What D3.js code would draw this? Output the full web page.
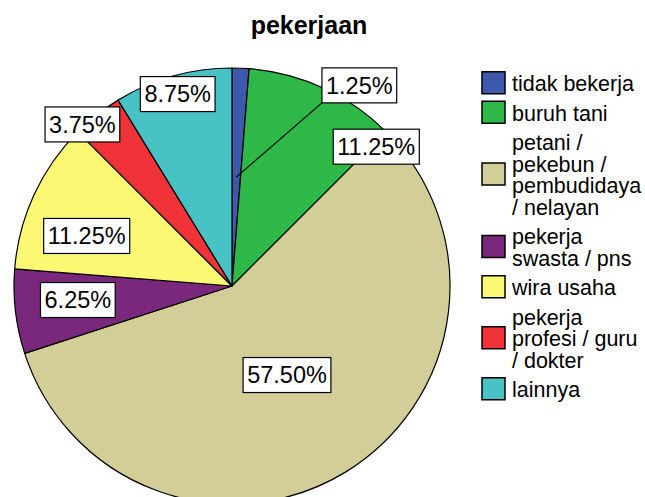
<!DOCTYPE html>
<html>
<head>
<meta charset="utf-8">
<script src="https://cdn.jsdelivr.net/npm/d3@7"></script>
<style>
  html, body { margin: 0; padding: 0; background: #fff; }
  svg { display: block; font-family: "Liberation Sans", Arial, sans-serif; }
</style>
</head>
<body>
<svg id="chart" width="645" height="497"></svg>
<script>
const categories = ['tidak bekerja', 'buruh tani', 'petani / pekebun / pembudidaya / nelayan',
  'pekerja swasta / pns', 'wira usaha', 'pekerja profesi / guru / dokter', 'lainnya'];
const percents = [1.25, 11.25, 57.50, 6.25, 11.25, 3.75, 8.75];
const legendLines = [
  ['tidak bekerja'],
  ['buruh tani'],
  ['petani /', 'pekebun /', 'pembudidaya', '/ nelayan'],
  ['pekerja', 'swasta / pns'],
  ['wira usaha'],
  ['pekerja', 'profesi / guru', '/ dokter'],
  ['lainnya']
];
const colors = ['#3E58AC', '#2EB848', '#D3CE97', '#7A287C', '#FBF873', '#EF3338', '#48C2C5'];

// where SPSS pushed each label (angle in degrees from 12 o'clock, distance as fraction of radius)
const labelAngle = [32.4, 46, 148.3, 264.8, 289, 317.2, 344.2];
const labelDist = [1.09, 0.92, 0.48, 0.71, 0.705, 1.01, 0.915];

const svg = d3.select('#chart');
const cx = 232, cy = 286, radius = 218;

svg.append('text')
  .attr('x', 309).attr('y', 34)
  .attr('text-anchor', 'middle')
  .attr('font-size', 25).attr('font-weight', 'bold')
  .text('pekerjaan');

const pie = d3.pie().sort(null).value(d => d);
const arcs = pie(percents);
const arc = d3.arc().innerRadius(0).outerRadius(radius);

const g = svg.append('g').attr('transform', `translate(${cx},${cy})`);

g.selectAll('path.slice')
  .data(arcs)
  .join('path')
  .attr('class', 'slice')
  .attr('d', arc)
  .attr('fill', (d, i) => colors[i])
  .attr('stroke', '#000')
  .attr('stroke-width', 1.2)
  .attr('stroke-linejoin', 'round');

const fmt = v => v.toFixed(2) + '%';

arcs.forEach((a, i) => {
  const ang = labelAngle[i] * Math.PI / 180;
  const r = labelDist[i] * radius;
  const lx = r * Math.sin(ang);
  const ly = -r * Math.cos(ang);

  const lg = g.append('g').attr('transform', `translate(${lx},${ly})`);
  const t = lg.append('text')
    .attr('text-anchor', 'middle')
    .attr('dy', '0.35em')
    .attr('font-size', 23.5)
    .text(fmt(percents[i]));
  const bb = t.node().getBBox();
  const w = bb.width + 8, h = 35;

  // leader line for labels pushed outside their slice
  if (labelDist[i] > 1.05) {
    const inner = arc.centroid(a);
    g.insert('line', 'g')
      .attr('x1', lx - w / 2).attr('y1', ly + h / 2)
      .attr('x2', inner[0]).attr('y2', inner[1])
      .attr('stroke', '#000').attr('stroke-width', 1.2);
  }

  lg.insert('rect', 'text')
    .attr('x', -w / 2).attr('y', -h / 2)
    .attr('width', w).attr('height', h)
    .attr('fill', '#fff')
    .attr('stroke', '#000').attr('stroke-width', 1.2);
});

// legend
const lineH = 21.5, gap = 8;
const legend = svg.append('g').attr('transform', 'translate(482,73)');
let y = 0;
legendLines.forEach((lines, i) => {
  const blockH = lines.length * lineH;
  const item = legend.append('g').attr('transform', `translate(0,${y})`);
  item.append('rect')
    .attr('x', 0).attr('y', blockH / 2 - 11 - 1)
    .attr('width', 23).attr('height', 22)
    .attr('fill', colors[i])
    .attr('stroke', '#000').attr('stroke-width', 1.5);
  const t = item.append('text').attr('font-size', 21.5);
  lines.forEach((ln, j) => {
    t.append('tspan')
      .attr('x', 30)
      .attr('y', j * lineH + lineH / 2)
      .attr('dy', '0.35em')
      .text(ln);
  });
  y += blockH + gap;
});
</script>
</body>
</html>
